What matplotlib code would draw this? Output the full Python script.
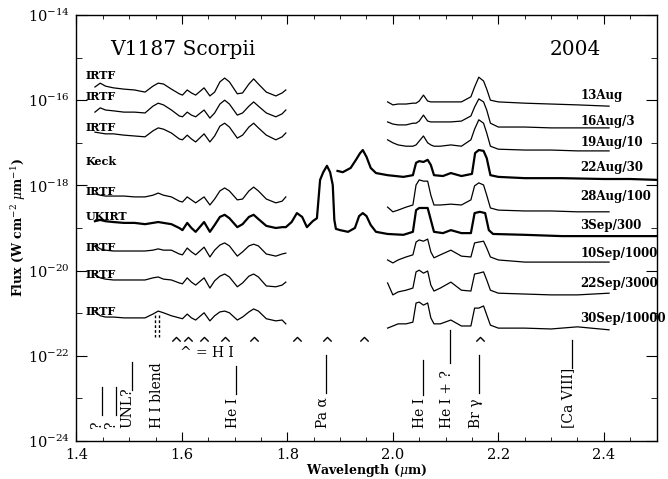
import numpy as np
import matplotlib

matplotlib.use("agg")
import matplotlib.pyplot as plt
from matplotlib.ticker import MultipleLocator, NullFormatter

plt.rcParams["font.family"] = "DejaVu Serif"
plt.rcParams["mathtext.fontset"] = "dejavuserif"

# wavelength grids (micron)
wl_h = [1.435, 1.445, 1.455, 1.47, 1.49, 1.51, 1.53, 1.545, 1.555, 1.565, 1.58, 1.595, 1.601,
        1.610, 1.618, 1.626, 1.642, 1.653, 1.662, 1.672, 1.681, 1.690, 1.705, 1.715, 1.727,
        1.736, 1.745, 1.760, 1.778, 1.790, 1.797]
wl_k = [1.99, 2.00, 2.01, 2.025, 2.038, 2.044, 2.050, 2.058, 2.066, 2.072, 2.078, 2.09, 2.11,
        2.13, 2.148, 2.155, 2.163, 2.172, 2.178, 2.185, 2.20, 2.25, 2.30, 2.35, 2.41]
wl_ukirt_ext = [1.808, 1.818, 1.828, 1.837, 1.848, 1.856, 1.862, 1.868, 1.875, 1.881, 1.886,
                1.889, 1.892, 1.90, 1.915, 1.928, 1.936, 1.943, 1.950, 1.958, 1.968, 1.99, 2.02,
                2.038, 2.044, 2.05, 2.066, 2.072, 2.078, 2.095, 2.11, 2.13, 2.148, 2.155, 2.165,
                2.175, 2.182, 2.19, 2.25, 2.32, 2.40, 2.45, 2.50]
wl_keck = [1.895, 1.905, 1.92, 1.930, 1.938, 1.943, 1.950, 1.958, 1.968, 1.99, 2.02, 2.038,
           2.044, 2.05, 2.058, 2.066, 2.072, 2.078, 2.095, 2.11, 2.13, 2.15, 2.156, 2.163, 2.172,
           2.178, 2.185, 2.20, 2.25, 2.32, 2.40, 2.45, 2.50]

# log10 flux (W cm^-2 um^-1), already divided by the factor in the date label
h_13aug = [-15.69, -15.60, -15.67, -15.71, -15.74, -15.76, -15.81, -15.67, -15.60, -15.62, -15.74,
           -15.85, -15.88, -15.76, -15.83, -15.88, -15.71, -15.90, -15.81, -15.57, -15.48, -15.57,
           -15.85, -15.83, -15.62, -15.50, -15.62, -15.81, -15.90, -15.83, -15.76]
k_13aug = [-16.04, -16.11, -16.09, -16.09, -16.07, -16.07, -16.02, -15.88, -16.02, -16.04, -16.04,
           -16.04, -16.04, -16.04, -15.92, -15.69, -15.46, -15.55, -15.74, -16.00, -16.04, -16.07,
           -16.09, -16.11, -16.14]
h_16aug = [-16.28, -16.18, -16.23, -16.25, -16.28, -16.28, -16.30, -16.14, -16.07, -16.11, -16.23,
           -16.37, -16.39, -16.28, -16.35, -16.39, -16.23, -16.42, -16.30, -16.09, -16.00, -16.09,
           -16.35, -16.30, -16.14, -16.04, -16.14, -16.30, -16.39, -16.32, -16.23]
k_16aug = [-16.51, -16.56, -16.58, -16.58, -16.54, -16.54, -16.49, -16.35, -16.49, -16.51, -16.51,
           -16.51, -16.51, -16.49, -16.37, -16.16, -15.97, -16.04, -16.23, -16.54, -16.63, -16.63,
           -16.65, -16.65, -16.65]
h_19aug = [-16.75, -16.77, -16.79, -16.79, -16.82, -16.84, -16.86, -16.72, -16.65, -16.68, -16.77,
           -16.91, -16.93, -16.82, -16.91, -16.98, -16.79, -16.98, -16.84, -16.61, -16.54, -16.63,
           -16.89, -16.82, -16.63, -16.54, -16.65, -16.82, -16.93, -16.86, -16.77]
k_19aug = [-16.93, -17.00, -17.05, -17.08, -17.08, -17.05, -16.96, -16.84, -17.00, -17.05, -17.08,
           -17.08, -17.05, -17.08, -16.93, -16.68, -16.46, -16.54, -16.77, -17.08, -17.15, -17.17,
           -17.17, -17.19, -17.19]
keck_22aug = [-17.66, -17.69, -17.59, -17.40, -17.24, -17.17, -17.33, -17.59, -17.71, -17.76,
              -17.80, -17.76, -17.47, -17.43, -17.45, -17.40, -17.52, -17.76, -17.78, -17.71,
              -17.78, -17.73, -17.24, -17.17, -17.19, -17.36, -17.76, -17.80, -17.83, -17.83,
              -17.85, -17.85, -17.87]
h_28aug = [-18.20, -18.23, -18.25, -18.25, -18.25, -18.27, -18.27, -18.23, -18.18, -18.23, -18.27,
           -18.37, -18.39, -18.27, -18.34, -18.41, -18.27, -18.46, -18.32, -18.13, -18.06, -18.13,
           -18.34, -18.32, -18.13, -18.04, -18.13, -18.32, -18.41, -18.37, -18.27]
k_28aug = [-18.51, -18.62, -18.58, -18.51, -18.46, -17.99, -17.87, -17.90, -17.90, -18.23, -18.46,
           -18.46, -18.44, -18.46, -18.34, -18.01, -17.94, -17.99, -18.23, -18.53, -18.58, -18.60,
           -18.60, -18.62, -18.62]
ukirt_3sep = [-18.84, -18.81, -18.84, -18.86, -18.88, -18.88, -18.91, -18.88, -18.86, -18.88,
              -18.91, -19.00, -19.05, -18.88, -19.00, -19.09, -18.86, -19.09, -18.93, -18.74,
              -18.69, -18.77, -18.98, -18.91, -18.74, -18.69, -18.79, -18.95, -19.00, -18.98,
              -18.98,
              -18.86, -18.65, -18.74, -18.98, -18.84, -18.77, -17.87, -17.69, -17.54, -17.69,
              -17.99, -18.81, -19.02, -19.05, -19.09, -19.00, -18.72, -18.65, -18.72, -18.93,
              -19.09, -19.14, -19.16, -19.09, -18.58, -18.53, -18.53, -18.81, -19.09, -19.12,
              -19.05, -19.12, -19.12, -18.65, -18.62, -18.65, -19.05, -19.14, -19.16, -19.19,
              -19.19, -19.19, -19.19]
h_10sep = [-19.40, -19.49, -19.52, -19.54, -19.54, -19.54, -19.54, -19.52, -19.49, -19.52, -19.52,
           -19.61, -19.63, -19.47, -19.56, -19.63, -19.45, -19.68, -19.52, -19.40, -19.35, -19.42,
           -19.66, -19.56, -19.42, -19.38, -19.42, -19.61, -19.66, -19.61, -19.59]
k_10sep = [-19.75, -19.82, -19.75, -19.68, -19.63, -19.33, -19.28, -19.31, -19.26, -19.56, -19.70,
           -19.63, -19.52, -19.66, -19.68, -19.35, -19.33, -19.31, -19.47, -19.68, -19.75, -19.80,
           -19.80, -19.80, -19.80]
h_22sep = [-20.10, -20.17, -20.20, -20.22, -20.22, -20.22, -20.22, -20.17, -20.15, -20.20, -20.22,
           -20.29, -20.31, -20.17, -20.27, -20.34, -20.17, -20.41, -20.24, -20.13, -20.08, -20.15,
           -20.38, -20.29, -20.13, -20.08, -20.15, -20.36, -20.38, -20.34, -20.27]
k_22sep = [-20.29, -20.57, -20.50, -20.46, -20.41, -20.03, -19.99, -20.06, -20.01, -20.34, -20.48,
           -20.41, -20.27, -20.46, -20.48, -20.08, -20.06, -20.03, -20.22, -20.46, -20.53, -20.55,
           -20.57, -20.57, -20.53]
h_30sep = [-20.97, -21.06, -21.09, -21.09, -21.11, -21.11, -21.11, -21.02, -20.95, -20.99, -21.06,
           -21.11, -21.13, -21.02, -21.11, -21.16, -20.99, -21.18, -21.06, -20.97, -20.95, -20.99,
           -21.16, -21.09, -20.97, -20.90, -20.95, -21.13, -21.18, -21.16, -21.25]
k_30sep = [-21.35, -21.30, -21.25, -21.25, -21.21, -20.76, -20.74, -20.81, -20.76, -21.11, -21.25,
           -21.25, -21.16, -21.30, -21.30, -20.88, -20.88, -20.83, -21.04, -21.28, -21.35, -21.35,
           -21.37, -21.32, -21.39]

date_labels = ["13Aug", "16Aug/3", "19Aug/10", "22Aug/30", "28Aug/100", "3Sep/300",
               "10Sep/1000", "22Sep/3000", "30Sep/10000"]
date_label_y = [-15.90, -16.49, -17.00, -17.59, -18.27, -18.95, -19.61, -20.31, -21.13]
instruments = ["IRTF", "IRTF", "IRTF", "Keck", "IRTF", "UKIRT", "IRTF", "IRTF", "IRTF"]
instrument_y = [-15.41, -15.92, -16.63, -17.43, -18.15, -18.74, -19.45, -20.10, -20.97]

# H I lines marked with carets
hi_lines = [1.5885, 1.6114, 1.6412, 1.6811, 1.7367, 1.8179, 1.8756, 1.9451, 2.1661]

# line identifications: label, wavelength of tick, tick top / bottom (log flux)
line_ids = ["?", "?", "UNL?", "He I", "Pa α", "He I", "He I + ?", "Br γ", "[Ca VIII]"]
line_wl = [1.448, 1.475, 1.505, 1.702, 1.873, 2.057, 2.108, 2.163, 2.339]
line_top = [-22.73, -22.73, -22.15, -22.24, -21.98, -22.10, -21.39, -21.98, -21.63]
line_bot = [-23.39, -23.39, -22.80, -22.90, -22.87, -22.92, -22.17, -22.87, -22.29]

fig = plt.figure(figsize=(6.68, 4.79), dpi=100)
ax = fig.add_axes([0.1145, 0.0793, 0.8683, 0.8894])

thin = [(wl_h, h_13aug), (wl_k, k_13aug), (wl_h, h_16aug), (wl_k, k_16aug),
        (wl_h, h_19aug), (wl_k, k_19aug), (wl_h, h_28aug), (wl_k, k_28aug),
        (wl_h, h_10sep), (wl_k, k_10sep), (wl_h, h_22sep), (wl_k, k_22sep),
        (wl_h, h_30sep), (wl_k, k_30sep)]
for wl, lf in thin:
    ax.plot(wl, 10 ** np.array(lf), color="k", lw=0.9)

ax.plot(wl_keck, 10 ** np.array(keck_22aug), color="k", lw=1.6)
ax.plot(wl_h + wl_ukirt_ext, 10 ** np.array(ukirt_3sep), color="k", lw=1.6)

ax.set_yscale("log")
ax.set_xlim(1.4, 2.5)
ax.set_ylim(1e-24, 1e-14)
ax.set_yticks([10.0 ** e for e in range(-24, -13, 2)])
ax.set_yticks([10.0 ** e for e in range(-23, -14, 2)], minor=True)
ax.yaxis.set_minor_formatter(NullFormatter())
ax.set_xticks([1.4, 1.6, 1.8, 2.0, 2.2, 2.4])
ax.set_xticklabels(["1.4", "1.6", "1.8", "2.0", "2.2", "2.4"])
ax.xaxis.set_minor_locator(MultipleLocator(0.05))
ax.tick_params(which="both", direction="in", top=True, right=True, labelsize=10.5)
ax.tick_params(axis="y", which="major", length=8, pad=5)
ax.tick_params(axis="y", which="minor", length=4)
ax.tick_params(axis="x", which="major", length=6.5, pad=5)
ax.tick_params(axis="x", which="minor", length=3)
for s in ax.spines.values():
    s.set_linewidth(1.0)

ax.set_xlabel(r"Wavelength ($\mu$m)", fontsize=9, fontweight="bold", labelpad=0)
ax.set_ylabel(r"Flux (W cm$^{-2}$ $\mu$m$^{-1}$)", fontsize=9, fontweight="bold", labelpad=0)

ax.text(0.058, 0.918, "V1187 Scorpii", transform=ax.transAxes, fontsize=14.5,
        va="center", ha="left")
ax.text(0.905, 0.918, "2004", transform=ax.transAxes, fontsize=14.5, va="center", ha="right")

for lab, ly in zip(instruments, instrument_y):
    ax.text(1.418, 10 ** ly, lab, fontsize=8, fontweight="bold", va="center", ha="left")
for lab, ly in zip(date_labels, date_label_y):
    ax.text(2.356, 10 ** ly, lab, fontsize=8.5, fontweight="bold", va="center", ha="left",
            clip_on=False)

# carets for H I
ax.plot(hi_lines, [10 ** -21.6] * len(hi_lines), ls="none", color="k",
        marker=[(-1, -0.5), (0, 0.5), (1, -0.5)], ms=6, mfc="none", mew=1.0)
ax.text(1.648, 10 ** -21.93, "^ = H I", fontsize=10, ha="center", va="center")

# H I blend, dashed double marks
for w in [1.549, 1.557]:
    ax.plot([w, w], [10 ** -21.04, 10 ** -21.56], color="k", lw=1.0, ls=(0, (2, 1.5)))
ax.text(1.553, 10 ** -23.70, "H I blend", rotation=90, fontsize=10, ha="center", va="bottom")

for lab, w, t, b in zip(line_ids, line_wl, line_top, line_bot):
    ax.plot([w, w], [10 ** t, 10 ** b], color="k", lw=0.9)
    off = 0.009 if w < 1.55 else 0.006
    ax.text(w - off, 10 ** -23.70, lab, rotation=90, fontsize=10, ha="center", va="bottom")

plt.savefig("out.png", dpi=100)
